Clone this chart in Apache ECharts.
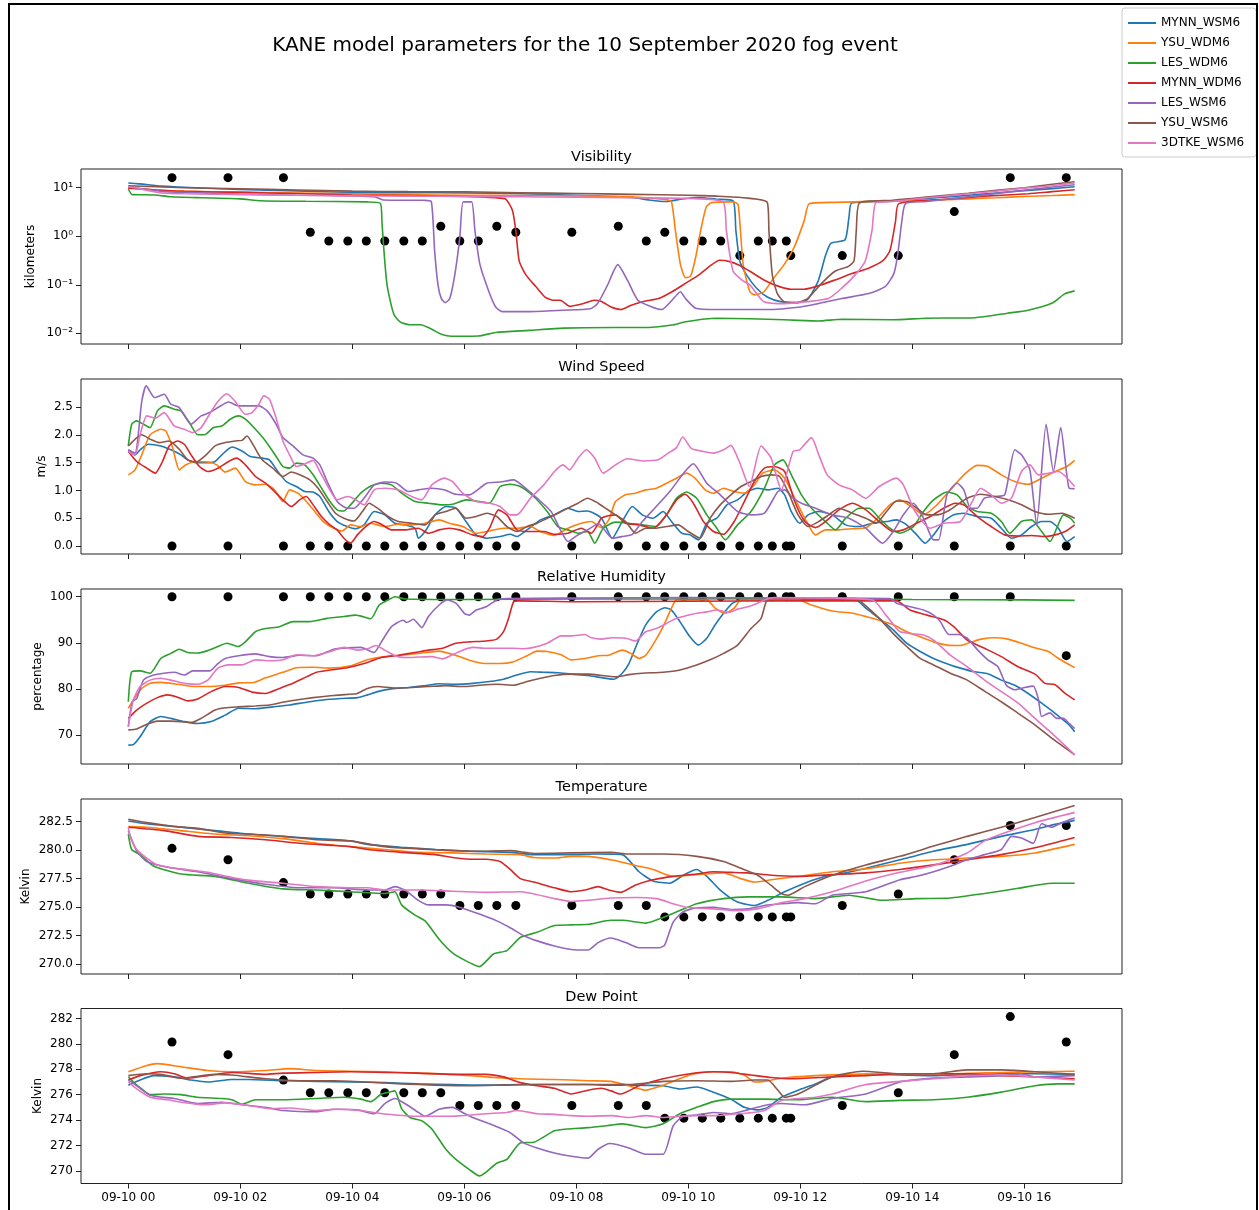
<!DOCTYPE html>
<html>
<head>
<meta charset="utf-8">
<title>KANE model parameters</title>
<script src="https://cdn.jsdelivr.net/npm/echarts@6.0.0/dist/echarts.min.js"></script>
<style>
  html, body { margin: 0; padding: 0; background: #fff; }
  #chart { width: 1259px; height: 1210px; }
</style>
</head>
<body>
<div id="chart"></div>
<script>
// ---- time axis (hours after 2020-09-10 00 UTC) ----
const hourTicks = [0, 2, 4, 6, 8, 10, 12, 14, 16];

const modelNames = ['MYNN_WSM6', 'YSU_WDM6', 'LES_WDM6', 'MYNN_WDM6', 'LES_WSM6', 'YSU_WSM6', '3DTKE_WSM6'];

// ---- METAR observations ----
const obsHours = [0.78, 1.78, 2.77, 3.25, 3.58, 3.92, 4.25, 4.58, 4.92, 5.25, 5.58, 5.92, 6.25, 6.58, 6.92, 7.92,
  8.75, 9.25, 9.58, 9.92, 10.25, 10.58, 10.92, 11.25, 11.5, 11.75, 11.83, 12.75, 13.75, 14.75, 15.75, 16.75];
const obsVis = [16.09, 16.09, 16.09, 1.21, 0.8, 0.8, 0.8, 0.8, 0.8, 0.8, 1.61, 0.8, 0.8, 1.61, 1.21, 1.21,
  1.61, 0.8, 1.21, 0.8, 0.8, 0.8, 0.4, 0.8, 0.8, 0.8, 0.4, 0.4, 0.4, 3.22, 16.09, 16.09];
const obsWind = [0, 0, 0, 0, 0, 0, 0, 0, 0, 0, 0, 0, 0, 0, 0, 0, 0, 0, 0, 0, 0, 0, 0, 0, 0, 0, 0, 0, 0, 0, 0, 0];
const obsRH = [100, 100, 100, 100, 100, 100, 100, 100, 100, 100, 100, 100, 100, 100, 100, 100,
  100, 100, 100, 100, 100, 100, 100, 100, 100, 100, 100, 100, 100, 100, 100, 87.2];
const obsT = [280.15, 279.15, 277.15, 276.15, 276.15, 276.15, 276.15, 276.15, 276.15, 276.15, 276.15, 275.15, 275.15, 275.15, 275.15, 275.15,
  275.15, 275.15, 274.15, 274.15, 274.15, 274.15, 274.15, 274.15, 274.15, 274.15, 274.15, 275.15, 276.15, 279.15, 282.15, 282.15];
const obsTd = [280.15, 279.15, 277.15, 276.15, 276.15, 276.15, 276.15, 276.15, 276.15, 276.15, 276.15, 275.15, 275.15, 275.15, 275.15, 275.15,
  275.15, 275.15, 274.15, 274.15, 274.15, 274.15, 274.15, 274.15, 274.15, 274.15, 274.15, 275.15, 276.15, 279.15, 282.15, 280.15];

// ---- y tick values ----
const visTicks = [0.01, 0.1, 1, 10];
const windTicks = [0, 0.5, 1, 1.5, 2, 2.5];
const rhTicks = [70, 80, 90, 100];
const tTicks = [270, 272.5, 275, 277.5, 280, 282.5];
const tdTicks = [270, 272, 274, 276, 278, 280, 282];

// ---- Visibility (km), [hour, value] ----
const visMynnWsm6 = [[0,12.5],[0.2,12],[0.6,10.8],[1,10.2],[2,9.2],[3,8.6],[4,8],[5,7.9],[6,7.8],[7,7.5],[8,7],[8.6,6.6],[9,6.3],[9.3,5.6],[9.6,5.2],[9.9,5.9],[10.2,6.3],[10.5,5.8],[10.8,5.4],[10.85,1.3],[10.92,0.31],[11.04,0.16],[11.22,0.085],[11.41,0.056],[11.65,0.045],[11.95,0.043],[12.13,0.05],[12.32,0.12],[12.45,0.4],[12.55,0.72],[12.8,0.85],[12.87,2.5],[12.92,4.9],[13.64,5.3],[14,5.7],[14.5,6.3],[15,7],[15.5,7.8],[16,8.7],[16.5,9.6],[16.9,10.5]];
const visYsuWdm6 = [[0,10],[0.5,9],[1,8.5],[2,8.1],[3,7.8],[4,7.5],[5,7.2],[6,7],[7,6.9],[8,6.8],[9,6.5],[9.4,6],[9.6,5.7],[9.7,5.1],[9.77,1.3],[9.86,0.26],[9.95,0.14],[10.04,0.15],[10.13,0.36],[10.22,1.3],[10.32,4],[10.41,4.9],[10.8,5.1],[10.89,4.5],[10.98,0.26],[11.1,0.072],[11.19,0.062],[11.35,0.072],[11.53,0.14],[11.71,0.26],[11.89,0.59],[12.07,2.1],[12.16,4.7],[12.62,5],[13.64,5.3],[14,5.4],[14.5,5.6],[15,5.9],[15.5,6.2],[16,6.6],[16.5,6.9],[16.9,7.2]];
const visLesWdm6 = [[0,9.4],[0.07,7.2],[0.47,7.1],[0.76,6.5],[1.34,6.2],[2,5.9],[2.36,5.4],[3.17,5.25],[4.26,5.1],[4.5,4.8],[4.53,1.9],[4.56,0.6],[4.62,0.1],[4.74,0.025],[4.86,0.017],[5.04,0.015],[5.22,0.015],[5.41,0.0123],[5.59,0.0096],[5.77,0.0087],[6.25,0.0088],[6.56,0.0104],[7.16,0.0115],[7.77,0.0128],[8.68,0.0132],[9.28,0.0132],[9.71,0.0148],[9.95,0.0173],[10.5,0.0204],[11.1,0.02],[11.71,0.019],[12.32,0.018],[12.74,0.0195],[13.64,0.019],[14.25,0.0205],[15.12,0.021],[15.7,0.026],[16.07,0.03],[16.5,0.042],[16.72,0.065],[16.9,0.075]];
const visMynnWdm6 = [[0,9.8],[0.5,9],[1,8.4],[2,8],[3,7.6],[4,7.1],[5,6.9],[6,6.6],[6.56,6.2],[6.74,5.8],[6.86,3.4],[6.92,1.3],[6.98,0.31],[7.1,0.16],[7.28,0.091],[7.44,0.056],[7.59,0.048],[7.71,0.048],[7.89,0.036],[8.13,0.041],[8.32,0.048],[8.44,0.046],[8.62,0.035],[8.8,0.031],[8.98,0.038],[9.22,0.046],[9.47,0.052],[9.71,0.072],[9.95,0.107],[10.19,0.16],[10.38,0.24],[10.56,0.32],[10.74,0.3],[10.92,0.25],[11.1,0.19],[11.35,0.126],[11.59,0.095],[11.83,0.081],[12.07,0.081],[12.32,0.095],[12.62,0.126],[12.92,0.17],[13.22,0.22],[13.47,0.31],[13.6,0.5],[13.7,2],[13.76,4.7],[14.6,5.8],[15.3,6.7],[16.07,7.5],[16.5,8.3],[16.9,9.1]];
const visLesWsm6 = [[0,10.6],[0.6,8.4],[1,8],[2,7.4],[3,7],[4,6.8],[4.4,6.5],[4.55,5.6],[5.28,5.5],[5.41,5.2],[5.47,0.5],[5.53,0.1],[5.59,0.052],[5.66,0.043],[5.74,0.052],[5.83,0.16],[5.92,0.95],[5.98,5.1],[6.13,5.1],[6.19,1.3],[6.28,0.26],[6.44,0.072],[6.56,0.035],[6.68,0.028],[7.16,0.028],[7.77,0.03],[8.25,0.032],[8.38,0.041],[8.56,0.1],[8.74,0.26],[8.92,0.12],[9.1,0.048],[9.35,0.035],[9.53,0.031],[9.71,0.048],[9.86,0.072],[9.95,0.052],[10.13,0.033],[10.5,0.031],[11.41,0.031],[12.01,0.035],[12.32,0.041],[12.74,0.052],[13.22,0.066],[13.52,0.093],[13.67,0.17],[13.74,0.42],[13.81,1.9],[13.88,4.7],[14.25,5.2],[15.34,7.2],[16.07,9.1],[16.9,11.5]];
const visYsuWsm6 = [[0,11],[0.5,10.5],[1,10],[2,9.5],[3,9],[4,8.5],[5,8.3],[6,8.2],[7,7.9],[8,7.6],[9,7.3],[10,7],[10.5,6.7],[11,6.2],[11.41,5],[11.44,1.3],[11.5,0.16],[11.59,0.066],[11.71,0.045],[11.95,0.043],[12.13,0.052],[12.38,0.107],[12.62,0.19],[12.86,0.24],[12.96,0.31],[13,1.3],[13.06,4.9],[13.64,5.5],[14,6],[14.5,6.8],[15,7.7],[15.5,8.8],[16,10],[16.5,11.8],[16.9,13.3]];
const visThreeDtkeWsm6 = [[0,10.6],[0.3,9],[0.6,7.8],[1,7.5],[2,7.2],[3,7],[4,6.8],[5,6.7],[6,6.6],[7,6.5],[8,6.4],[9,6.2],[10,6],[10.62,5.1],[10.68,1.3],[10.8,0.19],[10.98,0.12],[11.1,0.1],[11.22,0.066],[11.35,0.045],[11.71,0.041],[12.13,0.045],[12.5,0.052],[12.74,0.085],[12.98,0.16],[13.16,0.31],[13.28,1.3],[13.35,4.9],[13.64,5.2],[14,5.8],[14.5,6.6],[15,7.5],[15.5,8.5],[16,9.8],[16.5,11],[16.9,12.5]];

// ---- Wind speed (m/s) ----
const windMynnWsm6 = [[0,1.73],[0.12,1.64],[0.21,1.73],[0.36,1.83],[0.58,1.8],[0.76,1.73],[0.94,1.64],[1.06,1.55],[1.21,1.5],[1.42,1.5],[1.55,1.52],[1.67,1.64],[1.85,1.78],[2.03,1.71],[2.18,1.61],[2.39,1.58],[2.52,1.55],[2.67,1.34],[2.82,1.16],[3,1.07],[3.15,0.98],[3.3,0.97],[3.42,0.89],[3.58,0.62],[3.73,0.44],[3.91,0.35],[4.06,0.31],[4.21,0.38],[4.39,0.62],[4.58,0.56],[4.76,0.41],[4.94,0.38],[5.12,0.32],[5.18,0.14],[5.3,0.26],[5.48,0.56],[5.67,0.71],[5.85,0.68],[6.03,0.44],[6.21,0.2],[6.4,0.14],[6.64,0.17],[6.82,0.21],[6.94,0.17],[7.12,0.29],[7.36,0.47],[7.61,0.56],[7.85,0.68],[8.03,0.62],[8.2,0.63],[8.45,0.5],[8.64,0.14],[8.82,0.44],[9,0.71],[9.18,0.56],[9.37,0.5],[9.55,0.62],[9.7,0.44],[9.88,0.23],[10.03,0.2],[10.18,0.11],[10.33,0.41],[10.51,0.5],[10.69,0.74],[10.88,0.83],[11.06,0.98],[11.24,1.04],[11.42,1.01],[11.6,1.04],[11.72,0.92],[11.84,0.62],[11.99,0.41],[12.14,0.56],[12.33,0.62],[12.57,0.56],[12.81,0.38],[13.05,0.35],[13.29,0.41],[13.54,0.44],[13.72,0.47],[13.9,0.38],[14.08,0.2],[14.23,0.05],[14.38,0.2],[14.56,0.44],[14.74,0.56],[14.92,0.59],[15.16,0.53],[15.41,0.5],[15.59,0.32],[15.77,0.14],[15.95,0.2],[16.13,0.35],[16.31,0.44],[16.46,0.44],[16.61,0.32],[16.76,0.08],[16.9,0.17]];
const windYsuWdm6 = [[0,1.28],[0.12,1.37],[0.24,1.64],[0.39,2],[0.58,2.1],[0.67,2.07],[0.79,1.77],[0.91,1.37],[1.03,1.46],[1.21,1.52],[1.42,1.51],[1.58,1.46],[1.73,1.33],[1.91,1.4],[2.09,1.16],[2.27,1.1],[2.45,1.11],[2.61,1.01],[2.76,0.8],[2.88,1.01],[3.03,0.95],[3.18,0.8],[3.33,0.62],[3.48,0.44],[3.67,0.32],[3.82,0.27],[3.97,0.38],[4.15,0.35],[4.33,0.41],[4.58,0.35],[4.82,0.39],[5.06,0.38],[5.3,0.41],[5.55,0.47],[5.73,0.41],[5.97,0.35],[6.21,0.23],[6.45,0.27],[6.7,0.32],[6.94,0.32],[7.18,0.35],[7.36,0.26],[7.61,0.19],[7.85,0.32],[8.09,0.41],[8.27,0.44],[8.45,0.33],[8.58,0.47],[8.7,0.8],[8.88,0.92],[9.06,0.95],[9.24,1.01],[9.43,1.04],[9.61,1.13],[9.79,1.22],[9.97,1.31],[10.12,1.22],[10.3,1.01],[10.45,0.95],[10.63,1.04],[10.82,0.98],[11,0.95],[11.18,1.1],[11.33,1.31],[11.54,1.37],[11.72,1.22],[11.9,0.86],[12.08,0.5],[12.27,0.2],[12.45,0.29],[12.69,0.29],[12.93,0.31],[13.17,0.33],[13.35,0.47],[13.6,0.74],[13.78,0.83],[14.02,0.68],[14.2,0.56],[14.44,0.74],[14.68,1.01],[14.92,1.28],[15.16,1.45],[15.35,1.43],[15.59,1.28],[15.83,1.16],[16.07,1.11],[16.31,1.22],[16.55,1.34],[16.76,1.43],[16.9,1.54]];
const windLesWdm6 = [[0,1.8],[0.06,2.19],[0.15,2.25],[0.27,2.19],[0.39,2.13],[0.52,2.43],[0.64,2.52],[0.82,2.46],[0.94,2.43],[1.09,2.22],[1.24,2],[1.36,2],[1.52,2.13],[1.67,2.16],[1.82,2.28],[1.97,2.34],[2.09,2.28],[2.27,2.1],[2.45,1.89],[2.64,1.61],[2.76,1.43],[2.88,1.4],[3,1.49],[3.15,1.46],[3.3,1.28],[3.45,1.04],[3.6,0.8],[3.73,0.65],[3.85,0.63],[3.97,0.74],[4.15,0.95],[4.33,1.08],[4.52,1.13],[4.7,1.1],[4.88,0.95],[5.12,0.8],[5.36,0.77],[5.61,0.74],[5.79,0.75],[6.03,0.83],[6.27,0.8],[6.45,0.77],[6.64,1.07],[6.82,1.11],[7,1.07],[7.24,0.89],[7.48,0.62],[7.67,0.35],[7.85,0.29],[8.03,0.23],[8.2,0.26],[8.33,0.05],[8.48,0.32],[8.7,0.43],[8.94,0.41],[9.18,0.38],[9.43,0.35],[9.61,0.56],[9.79,0.86],[9.97,0.97],[10.15,0.86],[10.33,0.56],[10.51,0.32],[10.66,0.11],[10.88,0.38],[11.12,0.62],[11.36,1.04],[11.54,1.46],[11.69,1.55],[11.84,1.28],[12.02,0.92],[12.2,0.68],[12.45,0.44],[12.63,0.29],[12.81,0.5],[13.05,0.68],[13.23,0.68],[13.41,0.5],[13.6,0.32],[13.78,0.23],[14.02,0.35],[14.2,0.62],[14.38,0.83],[14.62,0.97],[14.8,0.92],[14.98,0.71],[15.16,0.62],[15.41,0.59],[15.59,0.44],[15.74,0.23],[15.95,0.44],[16.13,0.47],[16.31,0.26],[16.46,0.08],[16.58,0.32],[16.7,0.56],[16.82,0.5],[16.9,0.41]];
const windMynnWdm6 = [[0,1.7],[0.15,1.52],[0.33,1.4],[0.48,1.31],[0.61,1.52],[0.73,1.8],[0.88,1.89],[1,1.83],[1.12,1.64],[1.27,1.43],[1.42,1.34],[1.6,1.4],[1.79,1.52],[1.94,1.58],[2.09,1.46],[2.27,1.25],[2.45,1.13],[2.64,0.95],[2.76,0.83],[2.91,0.71],[3.06,0.83],[3.18,0.89],[3.3,0.74],[3.45,0.53],[3.6,0.38],[3.73,0.29],[3.85,0.14],[3.97,0.05],[4.09,0.2],[4.24,0.35],[4.39,0.44],[4.52,0.39],[4.7,0.29],[4.94,0.29],[5.18,0.32],[5.36,0.23],[5.55,0.29],[5.73,0.32],[5.91,0.29],[6.15,0.2],[6.33,0.17],[6.45,0.32],[6.61,0.65],[6.76,0.56],[6.94,0.29],[7.18,0.26],[7.42,0.26],[7.61,0.21],[7.85,0.23],[8.09,0.32],[8.27,0.23],[8.45,0.5],[8.6,0.55],[8.7,0.56],[8.88,0.41],[9.12,0.38],[9.37,0.32],[9.61,0.56],[9.79,0.83],[9.94,0.93],[10.09,0.77],[10.27,0.44],[10.45,0.26],[10.63,0.21],[10.82,0.44],[11,0.8],[11.18,1.16],[11.36,1.4],[11.54,1.43],[11.72,1.34],[11.9,0.8],[12.08,0.44],[12.27,0.33],[12.45,0.44],[12.69,0.65],[12.93,0.77],[13.17,0.65],[13.41,0.44],[13.66,0.26],[13.84,0.29],[14.08,0.41],[14.32,0.53],[14.56,0.68],[14.77,0.77],[14.92,0.74],[15.16,0.53],[15.41,0.35],[15.65,0.2],[15.89,0.18],[16.13,0.19],[16.37,0.17],[16.55,0.2],[16.73,0.26],[16.9,0.38]];
const windLesWsm6 = [[0,1.73],[0.12,1.67],[0.24,2.6],[0.32,2.88],[0.47,2.67],[0.64,2.73],[0.76,2.55],[0.91,2.49],[1.12,2.19],[1.3,2.34],[1.45,2.4],[1.6,2.49],[1.79,2.59],[1.97,2.52],[2.15,2.52],[2.33,2.52],[2.48,2.43],[2.64,2.19],[2.76,1.95],[2.94,1.8],[3.12,1.64],[3.3,1.58],[3.42,1.46],[3.55,1.16],[3.73,0.8],[3.91,0.68],[4.03,0.68],[4.21,0.86],[4.39,1.1],[4.58,1.15],[4.79,1.13],[5,0.98],[5.18,1.01],[5.42,1.04],[5.64,1.01],[5.85,0.93],[6.09,0.92],[6.4,1.13],[6.64,1.15],[6.88,1.19],[7.06,1.07],[7.3,0.86],[7.55,0.62],[7.73,0.26],[7.85,0.08],[8.03,0.2],[8.2,0.29],[8.4,0.4],[8.64,0.14],[8.82,0.17],[9,0.21],[9.18,0.44],[9.4,0.68],[9.67,0.98],[9.94,1.34],[10.09,1.48],[10.33,1.13],[10.57,0.92],[10.88,0.62],[11.12,0.56],[11.36,0.59],[11.6,0.98],[11.72,1.01],[11.87,0.86],[12.02,0.77],[12.27,0.68],[12.57,0.56],[12.87,0.5],[13.17,0.32],[13.47,0.05],[13.66,0.26],[13.84,0.56],[14.02,0.77],[14.2,0.5],[14.38,0.11],[14.47,0.11],[14.62,0.92],[14.8,1.13],[14.92,1.01],[15.04,0.68],[15.16,0.68],[15.29,0.86],[15.47,0.89],[15.65,0.92],[15.83,1.73],[15.95,1.64],[16.1,1.37],[16.22,0.38],[16.39,2.19],[16.52,1.34],[16.65,2.13],[16.8,1.04],[16.9,1.03]];
const windYsuWsm6 = [[0,1.8],[0.12,1.92],[0.24,2],[0.39,1.92],[0.55,1.86],[0.73,1.89],[0.91,1.74],[1.06,1.55],[1.21,1.51],[1.39,1.64],[1.55,1.8],[1.73,1.86],[1.91,1.89],[2.03,1.9],[2.12,1.98],[2.24,1.8],[2.39,1.55],[2.58,1.4],[2.76,1.25],[2.91,1.33],[3.06,1.28],[3.24,1.19],[3.39,1.04],[3.55,0.8],[3.7,0.59],[3.85,0.5],[4.03,0.45],[4.18,0.62],[4.3,0.77],[4.45,0.68],[4.64,0.53],[4.82,0.44],[5.06,0.41],[5.3,0.38],[5.48,0.56],[5.67,0.62],[5.85,0.68],[6.03,0.5],[6.21,0.53],[6.4,0.59],[6.58,0.53],[6.76,0.35],[6.94,0.26],[7.12,0.35],[7.3,0.41],[7.55,0.53],[7.79,0.65],[8.03,0.77],[8.2,0.86],[8.39,0.77],[8.52,0.68],[8.7,0.56],[8.88,0.44],[9.06,0.23],[9.24,0.32],[9.43,0.32],[9.61,0.35],[9.82,0.38],[10,0.26],[10.21,0.14],[10.39,0.5],[10.57,0.74],[10.76,0.92],[10.94,1.07],[11.12,1.16],[11.3,1.25],[11.48,1.28],[11.63,1.25],[11.78,0.98],[11.96,0.56],[12.14,0.35],[12.33,0.44],[12.51,0.56],[12.69,0.68],[12.93,0.59],[13.17,0.5],[13.35,0.41],[13.54,0.62],[13.72,0.81],[13.9,0.8],[14.08,0.68],[14.26,0.56],[14.44,0.56],[14.62,0.62],[14.8,0.74],[14.98,0.86],[15.22,0.93],[15.47,0.89],[15.71,0.83],[15.95,0.74],[16.19,0.62],[16.43,0.57],[16.67,0.59],[16.9,0.5]];
const windThreeDtkeWsm6 = [[0,1.7],[0.12,1.64],[0.21,2],[0.33,2.34],[0.48,2.3],[0.64,2.4],[0.82,2.16],[1,2.1],[1.15,2.04],[1.3,2.13],[1.45,2.37],[1.6,2.6],[1.76,2.74],[1.91,2.6],[2.09,2.37],[2.21,2.4],[2.33,2.55],[2.42,2.7],[2.52,2.64],[2.64,2.3],[2.76,1.89],[2.88,1.64],[3,1.43],[3.12,1.46],[3.3,1.54],[3.42,1.34],[3.58,1.04],[3.73,0.83],[3.91,0.89],[4.03,0.85],[4.21,0.74],[4.39,1.01],[4.58,1.04],[4.82,1.01],[5.06,0.89],[5.24,0.83],[5.42,1.1],[5.64,1.22],[5.79,1.16],[5.97,0.95],[6.21,0.8],[6.45,0.77],[6.64,0.71],[6.82,0.56],[6.94,0.56],[7.18,0.86],[7.42,1.1],[7.61,1.34],[7.76,1.46],[7.88,1.37],[8.03,1.58],[8.18,1.73],[8.33,1.58],[8.48,1.31],[8.7,1.46],[8.91,1.57],[9.18,1.53],[9.46,1.55],[9.64,1.67],[9.79,1.77],[9.9,1.96],[10.06,1.75],[10.27,1.7],[10.45,1.67],[10.63,1.73],[10.76,1.81],[10.91,1.52],[11.09,1.07],[11.3,1.8],[11.48,1.58],[11.66,1.01],[11.87,1.7],[11.99,1.73],[12.2,1.95],[12.33,1.64],[12.48,1.28],[12.69,1.1],[12.93,1.01],[13.17,0.86],[13.41,1.07],[13.72,1.22],[13.84,1.1],[14.05,0.62],[14.32,0.32],[14.56,0.41],[14.86,0.44],[15.04,0.74],[15.22,1.04],[15.41,0.92],[15.59,0.77],[15.77,0.86],[15.95,1.34],[16.1,1.46],[16.25,1.28],[16.43,1.31],[16.61,1.34],[16.9,1.07]];

// ---- Relative humidity (%) ----
const rhMynnWsm6 = [[0,67.8],[0.09,67.9],[0.21,69.6],[0.39,72.9],[0.58,74],[0.76,73.6],[1,72.9],[1.24,72.5],[1.48,72.9],[1.73,74.3],[1.97,75.8],[2.27,75.7],[2.58,76.1],[2.88,76.5],[3.18,77.1],[3.48,77.6],[3.79,77.9],[4.09,78.1],[4.27,78.7],[4.45,79.4],[4.7,80],[5,80.3],[5.3,80.7],[5.55,81.1],[5.85,81],[6.15,81.2],[6.45,81.6],[6.7,82.1],[6.94,83],[7.18,83.7],[7.42,83.6],[7.67,83.5],[7.91,83.2],[8.21,82.9],[8.67,82.1],[8.82,83.4],[8.94,85.5],[9.09,89.9],[9.24,93.9],[9.43,96.7],[9.58,97.6],[9.7,97.1],[9.85,94.6],[10.03,91.3],[10.18,89.5],[10.33,91],[10.48,93.9],[10.63,96.4],[10.79,98.6],[10.94,99.3],[12.99,99.3],[13.17,97.5],[13.41,95.3],[13.66,92.8],[13.9,89.9],[14.14,88.1],[14.38,86.6],[14.68,85.2],[14.86,84.5],[15.11,83.7],[15.35,83.3],[15.59,81.9],[15.83,80.8],[16.07,79],[16.31,76.9],[16.55,74.7],[16.8,72.2],[16.9,70.7]];
const rhYsuWdm6 = [[0,75.8],[0.09,77.6],[0.24,80.1],[0.39,81.2],[0.58,81.4],[0.88,81],[1.18,80.5],[1.42,80.5],[1.73,80.8],[1.97,81.3],[2.24,81.4],[2.45,82.4],[2.76,83.6],[3,84.6],[3.3,84.7],[3.61,84.5],[3.97,85],[4.27,86.3],[4.58,87],[4.88,87.3],[5.18,87.7],[5.55,88.2],[5.73,87.7],[5.91,87],[6.15,86],[6.39,85.5],[6.64,85.5],[6.88,85.9],[7.12,87.2],[7.3,88.2],[7.48,88.1],[7.73,87.4],[7.91,86.3],[8.15,86.6],[8.39,87.2],[8.58,87.3],[8.82,88.4],[8.97,87.7],[9.12,86.6],[9.24,87.3],[9.4,90.2],[9.55,93.5],[9.7,97.5],[9.79,99.3],[10.33,99.3],[10.48,97.5],[10.66,96.4],[10.82,97.5],[10.94,99.3],[11.96,99.3],[12.2,98.2],[12.57,96.9],[12.93,96.4],[13.17,95.7],[13.41,94.9],[13.66,93.9],[13.9,92.4],[14.14,91.3],[14.38,90.2],[14.62,89.5],[14.86,89.4],[15.04,90.1],[15.23,90.8],[15.47,91.1],[15.71,90.8],[15.95,89.9],[16.19,88.9],[16.43,88.1],[16.61,86.6],[16.9,84.6]];
const rhLesWdm6 = [[0,77.2],[0.06,83.7],[0.21,83.9],[0.39,83.4],[0.58,86.6],[0.76,87.7],[0.91,88.6],[1.06,87.9],[1.24,87.8],[1.42,88.3],[1.6,89.2],[1.76,89.9],[1.97,89.2],[2.09,90.2],[2.27,92.4],[2.45,93.1],[2.7,93.5],[2.94,94.6],[3.24,94.6],[3.55,95.3],[3.85,95.7],[4.06,96],[4.21,95.6],[4.33,95.2],[4.48,98.2],[4.64,99.3],[4.76,100],[4.94,99.5],[6,99.4],[8,99.5],[10,99.5],[12,99.6],[14,99.4],[16,99.3],[16.9,99.2]];
const rhMynnWdm6 = [[0,73.6],[0.15,75.4],[0.33,76.9],[0.52,78.1],[0.7,78.7],[0.88,78.2],[1.06,77.4],[1.24,77.8],[1.48,79.4],[1.73,80.5],[1.97,80.3],[2.21,79.3],[2.45,79],[2.7,80.1],[2.94,81.2],[3.18,82.6],[3.36,83.6],[3.61,84.1],[3.91,84.6],[4.21,85.5],[4.52,86.8],[4.82,87.3],[5.12,87.9],[5.36,88.4],[5.61,88.8],[5.85,89.9],[6.09,90.2],[6.39,90.4],[6.58,90.8],[6.7,92.4],[6.79,95.3],[6.88,98.9],[6.97,99.1],[8,98.9],[10,99],[12,99.1],[13.72,99.1],[13.96,97.1],[14.26,96],[14.56,95],[14.74,93.5],[14.98,90.6],[15.29,88.8],[15.59,87],[15.89,84.8],[16.19,83.2],[16.37,81.2],[16.55,80.9],[16.73,79],[16.9,77.6]];
const rhLesWsm6 = [[0,71.8],[0.07,77.2],[0.15,77.9],[0.27,81.9],[0.45,83],[0.64,83.4],[0.82,83.6],[1,83],[1.15,83.9],[1.45,83.9],[1.6,85.5],[1.73,86.6],[1.97,87.2],[2.27,87.6],[2.52,87],[2.76,86.8],[3.06,87.3],[3.36,87.2],[3.67,88.6],[3.91,88.9],[4.15,89],[4.39,87.9],[4.52,90.2],[4.7,93.5],[4.91,94.9],[4.97,94.4],[5.09,95.1],[5.24,93.3],[5.36,95.7],[5.55,98.2],[5.7,99.3],[5.85,98.6],[6,96.4],[6.09,96],[6.21,97.1],[6.39,97.8],[6.58,99.3],[6.76,99.6],[8,99.7],[10,99.8],[12,99.7],[13.6,99.6],[13.72,98.6],[13.96,97.8],[14.2,97.1],[14.38,96],[14.5,94.6],[14.65,91.8],[14.83,91.8],[14.98,91],[15.17,88.4],[15.35,86.3],[15.53,84.8],[15.68,80.8],[15.83,79.8],[16.01,80.3],[16.16,80.6],[16.25,77.9],[16.31,74],[16.46,74.8],[16.58,73.6],[16.7,73.6],[16.8,72.5],[16.9,71.4]];
const rhYsuWsm6 = [[0,71.1],[0.15,71.3],[0.33,72.3],[0.52,73],[0.76,73],[0.94,72.9],[1.12,72.7],[1.3,73.6],[1.55,75.4],[1.73,75.9],[1.97,76.1],[2.27,76.3],[2.52,76.5],[2.76,77.1],[3,77.6],[3.3,78.1],[3.61,78.5],[3.91,78.8],[4.09,79],[4.27,80.1],[4.45,80.5],[4.76,80.2],[5.06,80.3],[5.36,80.5],[5.67,80.7],[5.97,80.5],[6.27,80.8],[6.58,81],[6.88,80.8],[7.12,81.6],[7.36,82.3],[7.61,82.9],[7.91,83.2],[8.21,83.2],[8.7,82.6],[8.94,83.1],[9.18,83.4],[9.55,83.6],[9.85,84.1],[10.15,85.2],[10.39,86.3],[10.63,87.7],[10.88,89.5],[11.12,93.1],[11.3,95.3],[11.39,98.9],[11.48,99.6],[12.99,99.6],[13.17,98],[13.41,95.3],[13.66,92],[13.9,89.2],[14.14,86.6],[14.38,85.2],[14.68,83.4],[14.98,81.9],[15.29,79.5],[15.59,77.2],[15.89,74.7],[16.19,72.2],[16.49,69.3],[16.9,65.7]];
const rhThreeDtkeWsm6 = [[0,71.8],[0.09,77.6],[0.21,80.5],[0.39,81.9],[0.58,82.3],[0.76,81.9],[1,81.2],[1.24,81],[1.42,81.9],[1.6,84.5],[1.79,85.2],[2.03,85.2],[2.27,86.3],[2.52,86.1],[2.76,86.3],[3,87.4],[3.3,87.2],[3.61,88.1],[3.85,89],[4.09,88.4],[4.27,88.7],[4.42,89.4],[4.58,88.4],[4.76,87.2],[4.94,86.8],[5.18,86.9],[5.42,87],[5.61,86.5],[5.79,87.4],[5.97,88.4],[6.15,89],[6.39,88.8],[6.64,88.8],[6.88,88.8],[7.06,88.7],[7.24,89],[7.48,89.9],[7.73,91.5],[7.91,91.5],[8.15,91.8],[8.27,91.1],[8.45,90.8],[8.64,91.1],[8.88,91],[9.06,90.4],[9.24,92.4],[9.43,93.1],[9.61,94.2],[9.79,95.3],[9.97,95.9],[10.15,96.4],[10.33,96.7],[10.51,97.1],[10.73,96.6],[10.88,97.3],[11.06,97.8],[11.24,98.6],[11.36,99.3],[11.54,99.8],[13.29,99.3],[13.53,96],[13.72,93.1],[13.78,92.4],[13.96,92],[14.2,91.7],[14.38,90.6],[14.68,87.3],[14.98,84.8],[15.29,81.9],[15.59,79.4],[15.89,76.9],[16.19,73.6],[16.49,70.4],[16.9,65.7]];

// ---- Temperature (K) ----
const tMynnWsm6 = [[0,282.55],[0.33,282.3],[0.94,282],[1.55,281.7],[2.15,281.4],[2.76,281.2],[3.36,281],[3.97,280.8],[4.27,280.5],[4.88,280.25],[5.48,280.05],[6.09,279.9],[6.82,279.8],[7.24,279.6],[7.91,279.6],[8.34,279.65],[8.82,279.6],[9.12,278.1],[9.37,277.3],[9.67,277.1],[9.91,277.8],[10.15,278.3],[10.33,277.7],[10.57,276.5],[10.88,275.45],[11.18,275.15],[11.42,275.6],[11.72,276.35],[12.08,277.1],[12.45,277.7],[12.81,278],[13.17,278.4],[13.78,279.15],[14.38,279.9],[14.98,280.5],[15.59,281.2],[16.19,281.8],[16.55,282.25],[16.9,282.6]];
const tYsuWdm6 = [[0,282.05],[0.33,282],[0.94,281.7],[1.55,281.4],[2.15,281.25],[2.76,281],[3.36,280.6],[3.97,280.3],[4.58,280.05],[5.18,279.8],[5.79,279.75],[6.39,279.65],[7,279.6],[7.24,279.35],[7.61,279.3],[7.91,279.45],[8.21,279.45],[8.62,279.15],[8.76,279],[9.06,278.65],[9.37,278.3],[9.73,277.7],[10.15,277.85],[10.63,278],[10.94,277.5],[11.18,277.2],[11.48,277.4],[11.96,277.7],[12.57,278.1],[13.17,278.35],[13.78,278.85],[14.38,279.15],[14.98,279.3],[15.59,279.45],[16.19,279.75],[16.9,280.5]];
const tLesWdm6 = [[0,281.4],[0.06,280.05],[0.21,279.6],[0.45,278.6],[0.94,277.9],[1.55,277.7],[2.15,277.1],[2.76,276.6],[3.36,276.5],[3.97,276.35],[4.58,276.2],[4.76,276.35],[4.88,275.2],[5.12,274.3],[5.3,273.8],[5.55,272.2],[5.79,271],[6.03,270.3],[6.27,269.8],[6.52,270.9],[6.76,271.2],[7,272.35],[7.3,272.8],[7.61,273.4],[7.91,273.45],[8.21,273.5],[8.62,273.85],[8.82,273.85],[9.24,273.6],[9.55,274.1],[9.85,274.7],[10.15,275.3],[10.63,275.75],[11.06,275.9],[11.66,275.9],[12.27,275.75],[12.87,276.05],[13.47,275.6],[14.08,275.75],[14.68,275.8],[15.29,276.2],[15.89,276.65],[16.49,277.1],[16.9,277.1]];
const tMynnWdm6 = [[0,282],[0.64,281.7],[1.24,281.2],[1.85,281.1],[2.45,280.9],[3.06,280.6],[3.67,280.4],[3.97,280.3],[4.27,280.05],[4.88,279.8],[5.48,279.6],[5.79,279.35],[6.09,279.2],[6.39,279.2],[6.64,279],[6.82,278.3],[7,277.5],[7.24,277.2],[7.61,276.7],[7.91,276.35],[8.15,276.5],[8.39,276.8],[8.58,276.5],[8.79,276.3],[9.06,276.95],[9.37,277.4],[9.73,277.7],[10.15,277.9],[10.45,278.1],[10.76,278.05],[11.06,278],[11.48,277.8],[11.96,277.7],[12.57,277.85],[13.17,278],[13.78,278.3],[14.38,278.7],[14.98,279.15],[15.59,279.6],[16.19,280.2],[16.9,281.1]];
const tLesWsm6 = [[0,281.7],[0.15,279.9],[0.33,279],[0.7,278.5],[1.24,278.1],[1.85,277.5],[2.45,277],[3.06,276.7],[3.67,276.7],[4.27,276.5],[4.58,276.5],[4.76,276.8],[4.94,276.5],[5.18,275.6],[5.36,275.2],[5.67,275.2],[5.91,275],[6.27,274.4],[6.58,273.8],[6.82,273.2],[7.06,272.5],[7.3,272.05],[7.61,271.6],[7.91,271.3],[8.21,271.25],[8.39,271.9],[8.62,272.3],[8.88,271.9],[9.12,271.45],[9.49,271.45],[9.58,271.7],[9.73,273.7],[9.91,274.6],[10.15,274.95],[10.45,275],[10.76,274.8],[11.06,274.85],[11.36,275.15],[11.66,275.3],[11.96,275.4],[12.27,275.3],[12.57,276.05],[13.17,276.35],[13.78,277.4],[14.08,277.7],[14.38,278.1],[14.74,278.7],[14.98,279.15],[15.29,279.6],[15.59,280.05],[15.77,281.2],[15.95,281.05],[16.16,280.6],[16.31,282.3],[16.49,282],[16.67,282.4],[16.9,282.8]];
const tYsuWsm6 = [[0,282.7],[0.33,282.4],[0.76,282.1],[1.24,281.9],[1.73,281.5],[2.15,281.4],[2.76,281.2],[3.36,280.9],[3.97,280.8],[4.15,280.65],[4.58,280.3],[5.18,280.1],[5.79,279.95],[6.39,279.9],[6.82,279.95],[7.24,279.7],[7.91,279.75],[8.62,279.8],[8.94,279.65],[9.55,279.65],[10.15,279.45],[10.63,279],[10.94,278.4],[11.24,277.8],[11.48,276.9],[11.66,276.2],[11.78,276.05],[12.08,276.8],[12.57,277.8],[13.17,278.7],[13.78,279.45],[14.38,280.35],[14.98,281.2],[15.59,282],[16.19,282.85],[16.9,283.9]];
const tThreeDtkeWsm6 = [[0,282],[0.03,281.2],[0.15,280.05],[0.33,279.3],[0.52,278.7],[0.94,278.35],[1.42,278.05],[1.85,277.6],[2.27,277.3],[2.76,277.1],[3.36,276.8],[3.97,276.7],[4.27,276.7],[4.58,276.5],[5.18,276.5],[5.79,276.4],[6.39,276.3],[7,276.35],[7.61,275.75],[7.91,275.5],[8.21,275.6],[8.62,275.8],[9.06,275.85],[9.43,275.75],[9.73,275.3],[9.97,275],[10.45,274.85],[10.88,274.7],[11.24,274.85],[11.48,275.15],[11.72,275.45],[12.08,275.75],[12.57,276.35],[13.17,277.3],[13.78,278.05],[14.08,278.35],[14.38,278.65],[14.98,279.75],[15.29,280.8],[15.59,281.4],[16.19,282.4],[16.9,283.3]];

// ---- Dew point (K) ----
const tdMynnWsm6 = [[0,276.75],[0.21,277.15],[0.45,277.5],[0.82,277.4],[1.12,277.15],[1.42,277],[1.85,277.2],[2.15,277.2],[2.76,277.1],[3.36,277.05],[3.97,277],[4.58,276.95],[5.18,276.85],[5.79,276.8],[6.39,276.75],[7,276.8],[7.61,276.8],[8.21,276.8],[8.62,276.75],[8.94,276.75],[9.55,276.7],[9.85,276.45],[10.15,276.6],[10.45,276.2],[10.76,275.65],[11,275],[11.24,274.8],[11.42,275],[11.66,275.8],[11.96,276.35],[12.27,276.85],[12.57,277.4],[13.17,277.6],[13.78,277.55],[14.38,277.5],[14.98,277.6],[15.59,277.65],[16.19,277.65],[16.9,277.6]];
const tdYsuWdm6 = [[0,277.8],[0.33,278.3],[0.52,278.45],[0.94,278.2],[1.42,277.9],[1.85,277.8],[2.45,277.9],[2.88,278.05],[3.36,277.9],[3.97,277.85],[4.58,277.8],[5.18,277.7],[5.79,277.6],[6.39,277.4],[7,277.25],[7.61,277.2],[8.21,277.1],[8.62,277.05],[8.82,276.85],[9.24,276.35],[9.55,276.75],[10.03,277.55],[10.39,277.8],[10.76,277.8],[11,277.55],[11.18,277],[11.36,277.05],[11.66,277.3],[12.27,277.5],[12.87,277.6],[13.78,277.65],[14.68,277.65],[15.59,277.75],[16.19,277.8],[16.9,277.85]];
const tdLesWdm6 = [[0,277.4],[0.09,277],[0.24,276.45],[0.39,276],[0.64,276.05],[0.94,276],[1.24,275.8],[1.67,275.7],[1.85,275.6],[2.03,275.25],[2.27,275.6],[2.76,275.6],[3.36,275.7],[3.85,275.8],[4.15,275.65],[4.33,275.45],[4.52,276.05],[4.7,276.25],[4.76,276.3],[4.88,274.9],[5.03,274.2],[5.24,273.95],[5.42,273.3],[5.67,271.7],[5.85,270.9],[6.09,270.1],[6.27,269.6],[6.39,269.9],[6.58,270.6],[6.76,270.9],[7,272.2],[7.24,272.25],[7.61,273.15],[7.85,273.3],[8.21,273.4],[8.62,273.6],[8.82,273.7],[9.24,273.4],[9.55,273.7],[9.85,274.5],[10.15,275],[10.45,275.45],[10.76,275.65],[11.36,275.65],[11.96,275.6],[12.57,275.8],[13.17,275.45],[13.78,275.55],[14.38,275.6],[14.98,275.8],[15.59,276.2],[16.19,276.7],[16.61,276.85],[16.9,276.85]];
const tdMynnWdm6 = [[0,277.15],[0.21,277.5],[0.58,277.8],[0.82,277.65],[1.06,277.3],[1.42,277.5],[1.85,277.75],[2.45,277.6],[2.76,277.7],[3.36,277.75],[3.97,277.8],[4.58,277.75],[5.18,277.7],[5.79,277.6],[6.39,277.6],[6.7,277.4],[7,276.95],[7.3,276.7],[7.61,276.5],[7.91,276.05],[8.21,276.35],[8.45,276.5],[8.62,276.3],[8.79,276.05],[9.12,276.7],[9.55,277.25],[10.03,277.65],[10.45,277.8],[10.76,277.75],[11.12,277.55],[11.48,277.35],[11.84,277.25],[12.57,277.4],[13.17,277.5],[13.78,277.65],[14.38,277.65],[14.98,277.65],[15.59,277.5],[16.19,277.4],[16.9,277.25]];
const tdLesWsm6 = [[0,277.15],[0.09,276.9],[0.39,275.95],[0.82,275.7],[1.24,275.3],[1.67,275.4],[2.03,275.2],[2.45,275],[2.76,274.75],[3.36,274.65],[3.67,274.85],[4.09,274.8],[4.39,274.5],[4.58,275.3],[4.76,275.7],[4.94,275.3],[5.18,274.6],[5.3,274.3],[5.55,274.85],[5.79,275],[5.97,274.6],[6.15,274.2],[6.45,273.7],[6.82,273],[7.06,272.2],[7.3,271.8],[7.61,271.4],[7.91,271.15],[8.21,271],[8.39,271.7],[8.6,272.15],[8.94,271.8],[9.24,271.3],[9.55,271.3],[9.73,273.55],[9.91,274.3],[10.15,274.4],[10.45,274.6],[10.76,274.5],[11.06,274.8],[11.36,275.15],[11.66,275.3],[12.08,275.2],[12.57,275.7],[13.17,276.05],[13.78,277],[14.38,277.3],[14.98,277.4],[15.59,277.5],[15.95,277.65],[16.19,277.4],[16.9,277.5]];
const tdYsuWsm6 = [[0,277.5],[0.33,277.65],[0.58,277.6],[0.94,277.3],[1.55,277.6],[1.85,277.55],[2.45,277.25],[3.06,277.1],[3.67,277.1],[4.27,277],[4.88,276.85],[5.48,276.75],[6.09,276.7],[6.7,276.75],[7.3,276.8],[7.91,276.8],[8.62,276.8],[8.94,276.8],[9.55,277.05],[10.15,277.1],[10.76,277.05],[11.18,277.15],[11.42,277.15],[11.6,276.35],[11.72,275.8],[11.96,276.05],[12.27,276.75],[12.57,277.4],[13.11,277.85],[13.78,277.65],[14.38,277.65],[14.98,277.95],[15.59,277.95],[16.19,277.8],[16.9,277.6]];
const tdThreeDtkeWsm6 = [[0,277],[0.15,276.45],[0.39,275.8],[0.7,275.6],[0.94,275.4],[1.36,275.2],[1.73,275.35],[2.15,275.15],[2.52,274.9],[2.88,274.95],[3.36,274.75],[3.73,274.85],[4.15,274.75],[4.45,274.55],[4.76,274.4],[5.18,274.3],[5.79,274.3],[6.39,274.5],[6.76,274.6],[6.94,274.75],[7.3,274.5],[7.61,274.45],[7.91,274.35],[8.21,274.3],[8.62,274.35],[8.94,274.2],[9.24,274.35],[9.55,274.2],[9.85,274.3],[10.15,274.35],[10.45,274.35],[10.76,274.45],[11.06,274.55],[11.36,274.75],[11.66,275.55],[11.96,275.7],[12.27,275.8],[12.57,276.05],[13.17,276.8],[13.78,277.05],[14.38,277.25],[14.98,277.5],[15.59,277.55],[16.19,277.4],[16.9,277.15]];

// ---- styling / layout ----
const FONT = 'DejaVu Sans';
const modelColors = ['#1f77b4', '#ff7f0e', '#2ca02c', '#d62728', '#9467bd', '#8c564b', '#e377c2'];
const gridLeft = 81, gridWidth = 1041, gridHeight = 175;
const gridTops = [169, 379, 589, 799, 1008.5];

// The x axis counts hours from 2020-09-09 00 UTC, so 09-10 00 sits at 24.
const DAY_OFFSET = 24;
const toAxisHour = h => h + DAY_OFFSET;
const withAxisHour = pts => pts.map(p => [toAxisHour(p[0]), p[1]]);

const supDigits = { '-2': '⁻²', '-1': '⁻¹', '0': '⁰', '1': '¹' };

const panels = [
  { title: 'Visibility', unit: 'kilometers', nameGap: 44, type: 'log', min: 0.00603, max: 24.3, ticks: visTicks,
    fmt: v => '10' + supDigits[String(Math.round(Math.log10(v)))],
    models: [visMynnWsm6, visYsuWdm6, visLesWdm6, visMynnWdm6, visLesWsm6, visYsuWsm6, visThreeDtkeWsm6], obs: obsVis },
  { title: 'Wind Speed', unit: 'm/s', nameGap: 33, type: 'value', min: -0.144, max: 3.004, ticks: windTicks,
    fmt: v => v.toFixed(1),
    models: [windMynnWsm6, windYsuWdm6, windLesWdm6, windMynnWdm6, windLesWsm6, windYsuWsm6, windThreeDtkeWsm6], obs: obsWind },
  { title: 'Relative Humidity', unit: 'percentage', nameGap: 37, type: 'value', min: 63.7, max: 101.67, ticks: rhTicks,
    fmt: v => String(Math.round(v)),
    models: [rhMynnWsm6, rhYsuWdm6, rhLesWdm6, rhMynnWdm6, rhLesWsm6, rhYsuWsm6, rhThreeDtkeWsm6], obs: obsRH },
  { title: 'Temperature', unit: 'Kelvin', nameGap: 49, type: 'value', min: 269.15, max: 284.47, ticks: tTicks,
    fmt: v => v.toFixed(1),
    models: [tMynnWsm6, tYsuWdm6, tLesWdm6, tMynnWdm6, tLesWsm6, tYsuWsm6, tThreeDtkeWsm6], obs: obsT },
  { title: 'Dew Point', unit: 'Kelvin', nameGap: 37, type: 'value', min: 269.0, max: 282.79, ticks: tdTicks,
    fmt: v => String(Math.round(v)),
    models: [tdMynnWsm6, tdYsuWdm6, tdLesWdm6, tdMynnWdm6, tdLesWsm6, tdYsuWsm6, tdThreeDtkeWsm6], obs: obsTd }
];

const axisColor = '#222';
const grids = [], xAxes = [], yAxes = [], series = [];
const titles = [{
  text: 'KANE model parameters for the 10 September 2020 fog event',
  left: 585, top: 36, textAlign: 'center', padding: 0,
  textStyle: { fontFamily: FONT, fontSize: 20, fontWeight: 'normal', color: '#000' }
}];

panels.forEach((p, i) => {
  grids.push({ left: gridLeft, top: gridTops[i], width: gridWidth, height: gridHeight,
    show: true, borderColor: axisColor, borderWidth: 1, backgroundColor: 'transparent', containLabel: false });
  titles.push({ text: p.title, left: gridLeft + gridWidth / 2, top: gridTops[i] - 19, textAlign: 'center', padding: 0,
    textStyle: { fontFamily: FONT, fontSize: 14.5, fontWeight: 'normal', color: '#000' } });
  const isLast = i === panels.length - 1;
  xAxes.push({
    type: 'value', gridIndex: i, min: toAxisHour(-0.845), max: toAxisHour(17.745), position: 'bottom',
    axisLine: { show: false, onZero: false },
    splitLine: { show: false },
    axisTick: { show: true, inside: false, length: 5, customValues: hourTicks.map(toAxisHour), lineStyle: { color: axisColor } },
    axisLabel: { show: isLast, customValues: hourTicks.map(toAxisHour), margin: 8, fontFamily: FONT, fontSize: 12, color: '#000',
      formatter: v => '09-10 ' + String(Math.round(v - DAY_OFFSET)).padStart(2, '0') }
  });
  yAxes.push({
    type: p.type, gridIndex: i, min: p.min, max: p.max, position: 'left',
    name: p.unit, nameLocation: 'middle', nameRotate: 90, nameGap: p.nameGap, nameMoveOverlap: false,
    nameTextStyle: { fontFamily: FONT, fontSize: 12, color: '#000' },
    axisLine: { show: false, onZero: false },
    splitLine: { show: false },
    minorTick: { show: false },
    axisTick: { show: true, inside: false, length: 5, customValues: p.ticks, lineStyle: { color: axisColor } },
    axisLabel: { customValues: p.ticks, margin: 8, fontFamily: FONT, fontSize: 12, color: '#000', formatter: p.fmt }
  });
  p.models.forEach((data, k) => {
    series.push({
      type: 'line', name: modelNames[k], xAxisIndex: i, yAxisIndex: i,
      data: withAxisHour(data), symbol: 'none', showSymbol: false, smooth: 0.2, z: 3,
      lineStyle: { color: modelColors[k], width: 1.6 },
      itemStyle: { color: modelColors[k] },
      emphasis: { disabled: true }, animation: false
    });
  });
  series.push({
    type: 'scatter', name: 'obs', xAxisIndex: i, yAxisIndex: i, z: 2,
    data: obsHours.map((h, j) => [toAxisHour(h), p.obs[j]]),
    symbol: 'circle', symbolSize: 9, itemStyle: { color: '#000', opacity: 1 },
    emphasis: { disabled: true }, animation: false
  });
});

const chart = echarts.init(document.getElementById('chart'), null, { renderer: 'canvas' });
chart.setOption({
  backgroundColor: '#fff',
  animation: false,
  title: titles,
  grid: grids,
  xAxis: xAxes,
  yAxis: yAxes,
  series: series,
  legend: {
    data: modelNames, orient: 'vertical', left: 1122, top: 8,
    padding: [9, 12, 8, 5], itemWidth: 28, itemHeight: 14, itemGap: 8,
    borderColor: '#cccccc', borderWidth: 1, borderRadius: 3, backgroundColor: '#fff',
    itemStyle: { opacity: 0 },
    textStyle: { fontFamily: FONT, fontSize: 12, color: '#000' },
    selectedMode: false
  },
  graphic: [{
    type: 'rect', silent: true, z: 100,
    shape: { x: 9, y: 4, width: 1248, height: 1230 },
    style: { fill: null, stroke: '#000', lineWidth: 2 }
  }]
});
</script>
</body>
</html>
